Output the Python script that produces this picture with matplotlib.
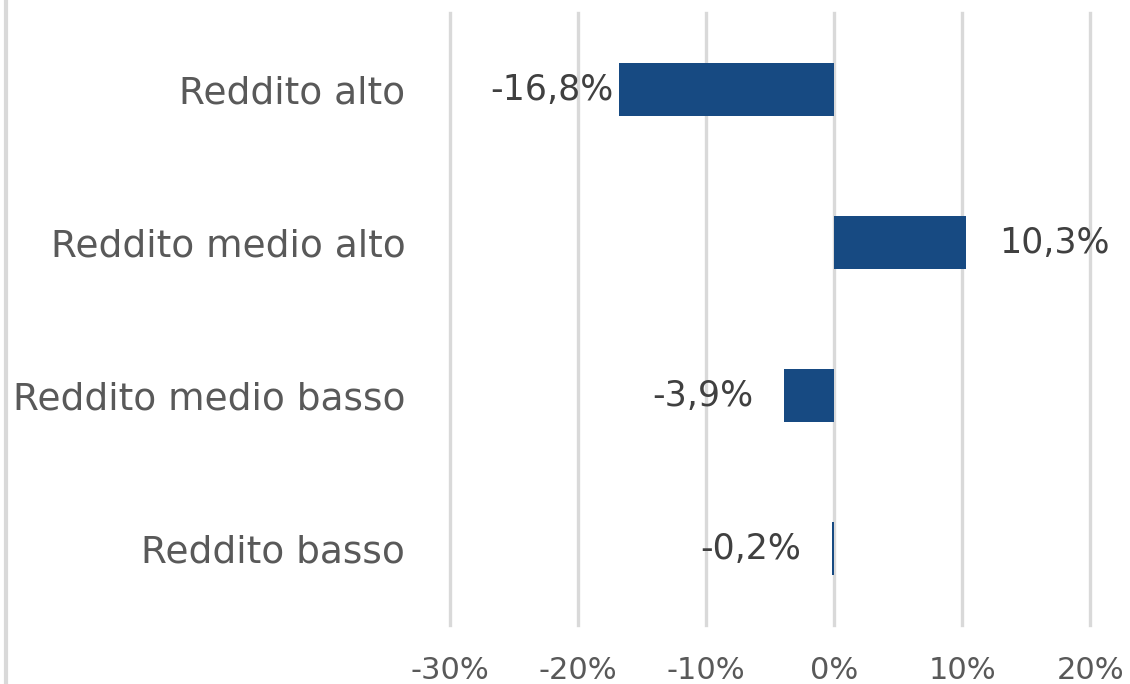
import matplotlib
matplotlib.use('Agg')
import matplotlib.pyplot as plt
from matplotlib.lines import Line2D
from matplotlib.ticker import FuncFormatter

# dati
categorie = ['Reddito alto', 'Reddito medio alto', 'Reddito medio basso', 'Reddito basso']
variazioni = [-16.8, 10.3, -3.9, -0.2]
etichette = ['-16,8%', '10,3%', '-3,9%', '-0,2%']
tick_valori = [-30, -20, -10, 0, 10, 20]

bar_color = '#174A82'
grid_color = '#D9D9D9'
text_gray = '#595959'

fig = plt.figure(figsize=(11.3, 6.84), dpi=100)
ax = fig.add_axes([0.398, 0.086, 0.567, 0.895])

y = list(range(len(categorie)))
ax.barh(y, variazioni, height=0.35, color=bar_color, zorder=3)

ax.set_xlim(-30, 20)
ax.set_ylim(len(categorie) - 0.5, -0.5)
ax.set_xticks(tick_valori)
ax.xaxis.set_major_formatter(FuncFormatter(lambda v, p: f'{v:.0f}%'))
ax.set_yticks(y)
ax.set_yticklabels(categorie, fontsize=27, color=text_gray)
for lab in ax.get_xticklabels():
    lab.set_fontsize(22)
    lab.set_color(text_gray)

ax.tick_params(axis='y', length=0, pad=32)
ax.tick_params(axis='x', length=0, pad=22)
ax.grid(axis='x', color=grid_color, linewidth=2.4, zorder=0)
for gl in ax.get_xgridlines():
    gl.set_clip_on(False)
for s in ax.spines.values():
    s.set_visible(False)

# etichette dei valori
for yi, v, t in zip(y, variazioni, etichette):
    if v < 0:
        off = -4 if v < -10 else -22
        ax.annotate(t, (v, yi), xytext=(off, 0), textcoords='offset points',
                    ha='right', va='center', fontsize=25, color='#404040')
    else:
        ax.annotate(t, (v, yi), xytext=(24, 0), textcoords='offset points',
                    ha='left', va='center', fontsize=25, color='#404040')

# bordo sinistro
fig.add_artist(Line2D([0.005, 0.005], [0, 1], transform=fig.transFigure,
                      color=grid_color, linewidth=3))

fig.savefig('out.png', dpi=100, facecolor='white')
